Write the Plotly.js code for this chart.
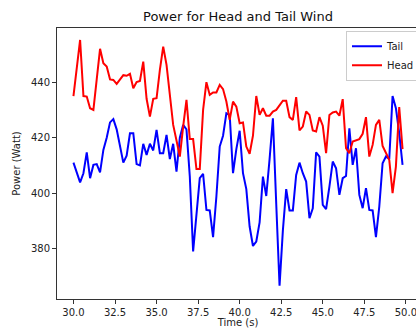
<!DOCTYPE html>
<html>
<head>
<meta charset="utf-8">
<script src="https://cdn.plot.ly/plotly-3.0.1.min.js"></script>
<style>
html,body{margin:0;padding:0;overflow:hidden;background:#fff;width:416px;height:328px;}
#chart{width:450px;height:328px;}
</style>
</head>
<body>
<div id="chart"></div>
<script>
const time = [];
for (let i = 0; i < 100; i++) time.push(+(30 + i * 0.2).toFixed(1));

const tailPower = [
  411, 407.8, 403.9, 407.2, 414.7, 405.4, 410.2, 410.5, 407.5, 415.6,
  420, 425.5, 426.7, 423, 416.8, 411, 413.5, 421.6, 421.6, 410.5,
  410, 417.8, 413.8, 417.8, 415.4, 422.8, 414.4, 414.4, 421, 412.3,
  417.8, 407.8, 420, 424.6, 423, 406, 379, 392.8, 405.4, 407,
  394, 393.8, 384.2, 398.8, 416.8, 420.7, 428.8, 428.2, 407.2, 415.9,
  422.5, 407.2, 401.5, 388, 381, 382.6, 389.5, 406, 399, 412.3,
  427, 396.2, 366.7, 386.6, 401.5, 393.8, 393.8, 406.6, 411, 407.2,
  404.2, 391, 394.6, 414.7, 413.2, 395.8, 394.3, 402.4, 411.4, 409,
  399.4, 405.4, 406.2, 423.4, 410.2, 416.2, 399.4, 394.6, 401.8, 394,
  393.8, 384.2, 395.2, 410.8, 413.2, 412.3, 435, 430.6, 421.6, 410.2
];

const headPower = [
  435, 445, 455.2, 435, 434.8, 430.6, 430, 441, 452, 446.8,
  445.6, 441, 440.8, 439.4, 441, 442.5, 442.3, 443, 437.8, 440,
  440.4, 447.4, 434, 427.6, 434, 434.2, 444.4, 452.8, 446.2, 436,
  424.6, 419, 413.2, 424, 433.6, 419.5, 419.5, 408.7, 408.7, 430,
  440, 435.4, 436.3, 436.3, 439, 437.5, 433, 426.4, 433, 431.2,
  425.2, 425.5, 416.8, 414.2, 420.7, 435, 428.2, 430.6, 427.9, 427.9,
  429.4, 430, 431.5, 433.3, 433.3, 427.4, 426.4, 434.6, 422.6, 424,
  429.4, 428.2, 422.6, 422.2, 427.4, 424.3, 414.4, 428.2, 429.1, 429.4,
  427.9, 433.9, 416.2, 414.4, 418.6, 419, 419.5, 421.4, 427.4, 413.2,
  417.4, 424.6, 426.4, 417, 414.4, 412, 400, 409.6, 431, 415.9
];

const seriesNames = ["Tail", "Head"];
const titleText = "Power for Head and Tail Wind";
const xLabel = "Time (s)";
const yLabel = "Power (Watt)";
const xTickVals = [30, 32.5, 35, 37.5, 40, 42.5, 45, 47.5, 50];
const yTickVals = [380, 400, 420, 440];

const font = "DejaVu Sans, Liberation Sans, sans-serif";

const traces = [
  {x: time, y: tailPower, name: seriesNames[0], type: "scatter", mode: "lines",
   line: {color: "#0000ff", width: 2}},
  {x: time, y: headPower, name: seriesNames[1], type: "scatter", mode: "lines",
   line: {color: "#ff0000", width: 2}}
];

const layout = {
  width: 450, height: 328,
  margin: {l: 57, r: 31, t: 28, b: 29, pad: 0},
  paper_bgcolor: "#fff", plot_bgcolor: "#fff",
  font: {family: font, color: "#222", size: 10},
  title: {text: titleText, font: {family: font, size: 13, color: "#111"},
          x: 238 / 450, xanchor: "center", y: 1, yref: "container", yanchor: "top", pad: {t: 12}},
  xaxis: {
    range: [29.01, 50.79], showgrid: false, zeroline: false,
    tickmode: "array", tickvals: xTickVals, ticktext: xTickVals.map(v => v.toFixed(1)),
    ticks: "outside", ticklen: 4, tickcolor: "#333", tickwidth: 1,
    showline: true, mirror: true, linecolor: "#333", linewidth: 1,
    tickfont: {family: font, size: 10, color: "#222"},
    title: {text: xLabel, font: {family: font, size: 10, color: "#222"}, standoff: 5}
  },
  yaxis: {
    range: [361.9, 459.5], showgrid: false, zeroline: false,
    tickmode: "array", tickvals: yTickVals, ticktext: yTickVals.map(String),
    ticks: "outside", ticklen: 4, tickcolor: "#333", tickwidth: 1,
    showline: true, mirror: true, linecolor: "#333", linewidth: 1,
    tickfont: {family: font, size: 10, color: "#222"},
    title: {text: yLabel, font: {family: font, size: 10, color: "#222"}, standoff: 8}
  },
  showlegend: true,
  legend: {
    x: (346 - 57) / 362, xanchor: "left", y: 0.99, yanchor: "top",
    bgcolor: "rgba(255,255,255,0.8)", bordercolor: "#ccc", borderwidth: 1,
    font: {family: font, size: 10, color: "#222"},
    itemwidth: 30, tracegroupgap: 0
  }
};

Plotly.newPlot("chart", traces, layout, {displayModeBar: false, staticPlot: true});
</script>
</body>
</html>
